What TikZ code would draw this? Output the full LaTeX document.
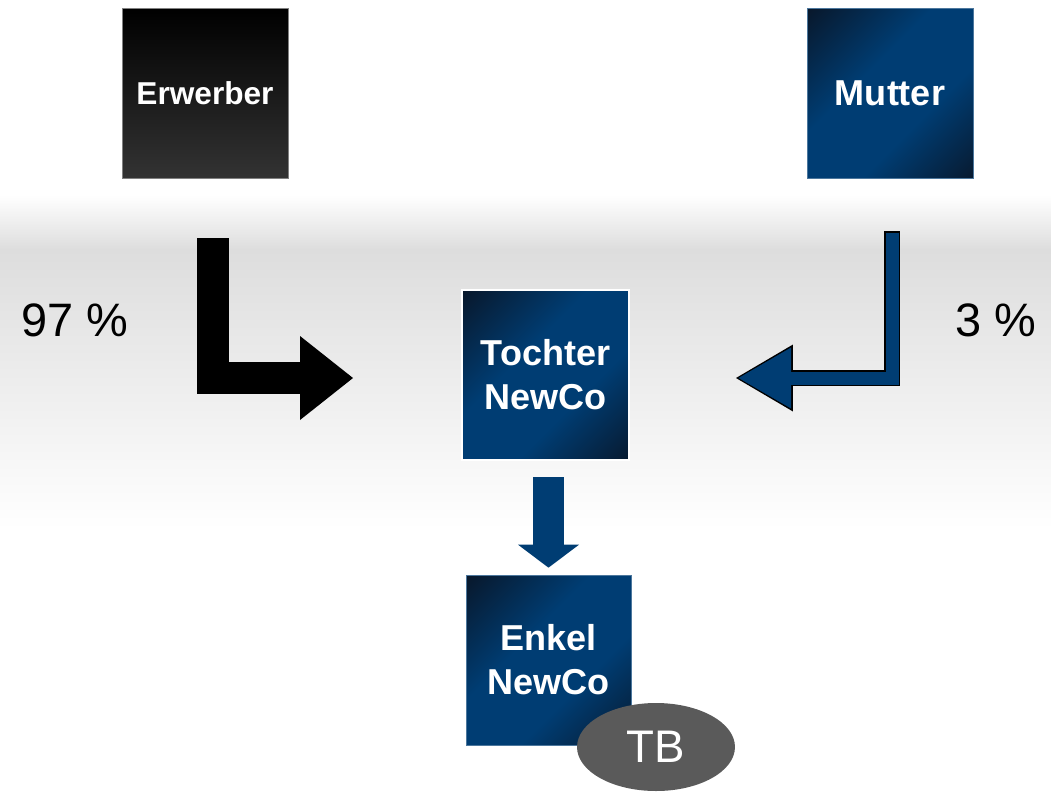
\documentclass[tikz,border=0pt]{standalone}
\usepackage{fontspec}
\setmainfont{Liberation Sans}
\usetikzlibrary{arrows.meta,positioning,shapes.geometric}

\definecolor{nbblue}{RGB}{0,61,115}
\definecolor{nbdark}{RGB}{8,24,44}
\definecolor{bandgray}{RGB}{221,221,221}
\definecolor{tbgray}{RGB}{90,90,90}

% blue boxes: dark in two corners, blue in between
\pgfdeclarehorizontalshading{nbshade}{100bp}{color(0bp)=(nbdark); color(15bp)=(nbdark); color(41bp)=(nbblue); color(62bp)=(nbblue); color(87bp)=(nbdark); color(100bp)=(nbdark)}

\tikzset{
  firm/.style={minimum width=3.32cm, minimum height=3.4cm, inner sep=0pt,
    align=center, text=white, font=\bfseries\fontsize{20.5}{25}\selectfont},
  bluefirm/.style={firm, shading=nbshade, shading angle=-45, draw=nbblue!70!white, line width=0.4pt},
  blackfirm/.style={firm, top color=black, bottom color=black!80, draw=gray, line width=0.4pt,
    font=\bfseries\fontsize{18}{22}\selectfont},
  share/.style={font=\fontsize{26.7}{30}\selectfont},
}

\begin{document}
\begin{tikzpicture}[x=0.02cm, y=-0.02cm]
\useasboundingbox (0,0) rectangle (1051,792);

% grey band behind the middle row
\shade[top color=white, bottom color=bandgray] (0,195) rectangle (1051,250);
\shade[top color=bandgray, bottom color=white] (0,249) rectangle (1051,530);

\node[blackfirm] (erwerber) at (205,93) {Erwerber};
\node[bluefirm] (mutter) at (890,93) {Mutter};
\node[bluefirm, draw=white, line width=1.5pt, minimum width=3.34cm] (tochter) at (545.5,375) {Tochter\\NewCo};
\node[bluefirm, minimum width=3.3cm] (enkel) at (548.5,660) {Enkel\\NewCo};
\node[ellipse, fill=tbgray, minimum width=3.16cm, minimum height=1.76cm, inner sep=0pt,
  text=white, font=\fontsize{26}{30}\selectfont] (tb) at (656,747) {TB};

\node[share] (p97) at (75,320) {97 \%};
\node[share] (p3) at (996,320) {3 \%};

\coordinate (erw-out) at (213,238);
\coordinate (toc-in-l) at (353,378);
\coordinate (mut-out) at (892,231);
\coordinate (toc-in-r) at (736,378);

% 97 % share
\draw[line width=0.64cm, -{Triangle[width=1.68cm,length=1.06cm,line width=0pt]}]
  (erw-out) |- (toc-in-l);
% 3 % share, black rim first
\draw[line width=0.32cm, -{Triangle[width=1.34cm,length=1.14cm,line width=0pt]}]
  (mut-out) |- (toc-in-r);
\draw[nbblue, line width=0.26cm, shorten >=0.05cm, -{Triangle[width=1.22cm,length=1.05cm,line width=0pt]}]
  ([yshift=-0.03cm]mut-out) |- (toc-in-r);

\draw[nbblue, line width=0.62cm, shorten <=0.32cm, shorten >=0.14cm,
  -{Triangle[width=1.22cm,length=0.46cm,line width=0pt]}]
  (enkel.north |- tochter.south) -- (enkel.north);
\end{tikzpicture}
\end{document}
